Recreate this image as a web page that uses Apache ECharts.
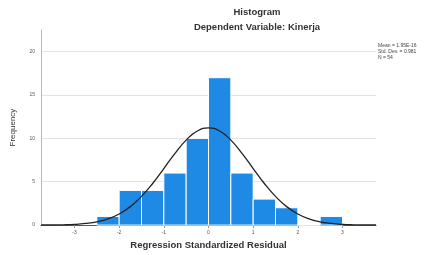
<!DOCTYPE html>
<html>
<head>
<meta charset="utf-8">
<script src="https://cdn.jsdelivr.net/npm/echarts@6/dist/echarts.min.js"></script>
<style>
  html, body { margin: 0; padding: 0; background: #fff; }
  #chart { width: 424px; height: 255px; }
</style>
</head>
<body>
<div id="chart"></div>
<script>
// histogram bins (lower edge, upper edge) and frequencies
const binStart = [-2.5, -2, -1.5, -1, -0.5, 0, 0.5, 1, 1.5, 2, 2.5];
const binEnd   = [-2, -1.5, -1, -0.5, 0, 0.5, 1, 1.5, 2, 2.5, 3];
const counts   = [1, 4, 4, 6, 10, 17, 6, 3, 2, 0, 1];

// normal curve
const curveX = [-3.75, -3.5, -3.25, -3, -2.75, -2.5, -2.25, -2, -1.75, -1.5, -1.25, -1, -0.75, -0.5, -0.25, 0,
                0.25, 0.5, 0.75, 1, 1.25, 1.5, 1.75, 2, 2.25, 2.5, 2.75, 3, 3.25, 3.5, 3.75];
const curveY = [0.01, 0.01, 0.03, 0.08, 0.19, 0.38, 0.72, 1.28, 2.13, 3.31, 4.8, 6.52, 8.27, 9.8, 10.85, 11.22,
                10.85, 9.8, 8.27, 6.52, 4.8, 3.31, 2.13, 1.28, 0.72, 0.38, 0.19, 0.08, 0.03, 0.01, 0.01];

const xTicks = [-3, -2, -1, 0, 1, 2, 3];
const yTicks = [0, 5, 10, 15, 20];

const chart = echarts.init(document.getElementById('chart'));

chart.setOption({
  backgroundColor: '#fff',
  animation: false,
  title: [
    {
      text: 'Histogram',
      left: 252, top: 2, textAlign: 'center',
      textStyle: { fontSize: 9.5, fontWeight: 'bold', color: '#333', fontFamily: 'Liberation Sans' }
    },
    {
      text: 'Dependent Variable: Kinerja',
      left: 252, top: 17, textAlign: 'center',
      textStyle: { fontSize: 9.5, fontWeight: 'bold', color: '#333', fontFamily: 'Liberation Sans' }
    }
  ],
  graphic: [
    {
      type: 'text', left: 378, top: 43,
      style: {
        text: 'Mean = 1.95E-16\nStd. Dev. = 0.981\nN = 54',
        fontSize: 5, lineHeight: 6, fill: '#444', fontFamily: 'Liberation Sans'
      }
    }
  ],
  grid: { left: 41, right: 48, top: 30, bottom: 29 },
  xAxis: {
    type: 'value',
    min: -3.75, max: 3.75,
    name: 'Regression Standardized Residual',
    nameLocation: 'middle', nameGap: 14,
    nameTextStyle: { fontSize: 9.5, fontWeight: 'bold', color: '#333', fontFamily: 'Liberation Sans' },
    axisLine: { show: true, onZero: false, lineStyle: { color: '#555', width: 1 } },
    axisTick: { show: true, length: 3, customValues: xTicks, lineStyle: { color: '#999' } },
    axisLabel: { customValues: xTicks, fontSize: 5, color: '#555', margin: 5 },
    splitLine: { show: false }
  },
  yAxis: {
    type: 'value',
    min: 0, max: 22.5,
    name: 'Frequency',
    nameLocation: 'middle', nameGap: 24,
    nameTextStyle: { fontSize: 8, color: '#333', fontFamily: 'Liberation Sans' },
    axisLine: { show: true, onZero: false, lineStyle: { color: '#bbb' } },
    axisTick: { show: false, customValues: yTicks },
    axisLabel: { customValues: yTicks, fontSize: 5, color: '#555', margin: 6 },
    splitLine: { show: true, lineStyle: { color: '#e2e2e2', width: 1 } }
  },
  series: [
    {
      type: 'custom',
      data: binStart.map((s, i) => [s, binEnd[i], counts[i]]),
      renderItem: (params, api) => {
        const p0 = api.coord([api.value(0), api.value(2)]);
        const p1 = api.coord([api.value(1), 0]);
        return {
          type: 'rect',
          shape: { x: p0[0], y: p0[1], width: p1[0] - p0[0], height: p1[1] - p0[1] },
          style: { fill: '#1e8ae6', stroke: '#fff', lineWidth: 1 }
        };
      },
      encode: { x: [0, 1], y: 2 },
      z: 2
    },
    {
      type: 'line',
      data: curveX.map((x, i) => [x, curveY[i]]),
      smooth: true,
      showSymbol: false,
      lineStyle: { color: '#222', width: 1.3 },
      z: 3
    }
  ]
});
</script>
</body>
</html>
